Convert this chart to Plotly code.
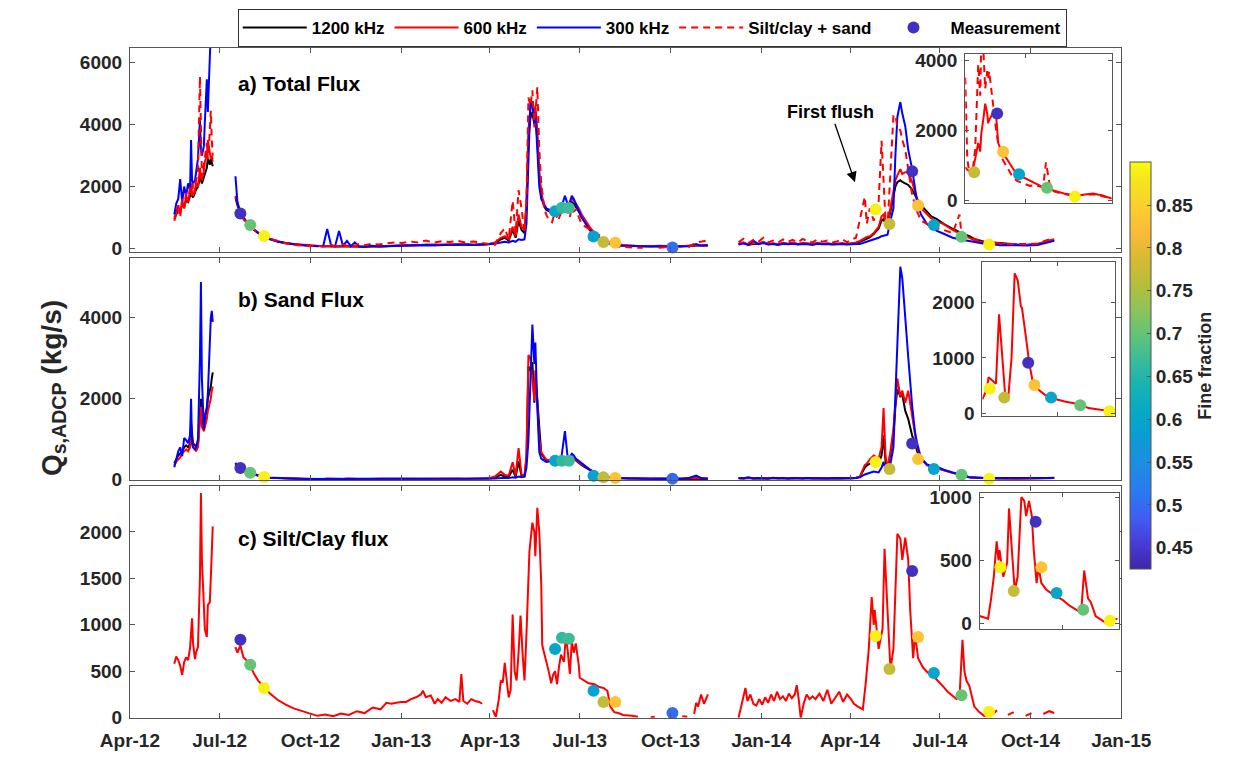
import pandas as pd
import plotly.graph_objects as go

# ---------------- data (day offsets from 2012-04-01) ----------------
BASE = pd.Timestamp("2012-04-01")

# segment 1 (May-Jun 2012), panels a & b & c
g1_days = [45, 47, 49, 51, 53, 55, 57, 59, 61, 62,
           63, 64, 66, 67, 69, 71, 72, 73, 75, 76,
           78, 79, 80, 81, 82, 83, 84]
a1200_1 = [1000, 1100, 1250, 1200, 1400, 1350, 1550, 1500, 1700, 1800,
           1700, 1650, 1800, 1900, 2000, 2300, 2200, 2100, 2300, 2400,
           2600, 2900, 2800, 2700, 2900, 2700, 2650]
a600_1 = [950, 1200, 1400, 1150, 1550, 1300, 1700, 1500, 1900, 2100,
          1800, 1700, 1900, 2100, 2000, 2600, 2300, 2200, 2500, 2800,
          3000, 3500, 3300, 3100, 2900, 3000, 2800]
a300_1 = [1100, 1450, 1600, 2240, 1500, 2000, 1700, 2100, 1900, 3500,
          2200, 2100, 2200, 2500, 2900, 4130, 3200, 3000, 3300, 4100,
          5450, 4400, 5200, 6900, 7000, 7000, 6900]
adash_1 = [900, 1100, 1300, 1000, 1600, 1300, 1800, 1500, 2000, 1900,
           1700, 2100, 1800, 2200, 2500, 5540, 3500, 2300, 2700, 3000,
           3400, 2900, 3200, 3800, 4440, 3500, 3000]
b1200_1 = [400, 500, 600, 650, 700, 800, 850, 800, 900, 1400,
           1000, 900, 850, 800, 850, 1500, 2000, 1500, 1300, 1500,
           1700, 2000, 2100, 2200, 2300, 2500, 2650]
b600_1 = [350, 450, 500, 550, 650, 700, 750, 700, 800, 1200,
          900, 800, 750, 700, 800, 1400, 1800, 1300, 1200, 1300,
          1500, 1700, 1800, 1900, 2000, 2200, 2300]
b300_1 = [310, 500, 700, 800, 580, 1030, 980, 900, 1100, 2000,
          900, 800, 750, 800, 1000, 3000, 4880, 2500, 1240, 1570,
          1800, 2100, 2800, 3740, 4000, 4170, 3900]
c_1 = [580, 660, 620, 560, 460, 600, 650, 620, 750, 900,
       1070, 800, 630, 700, 760, 1500, 2420, 1700, 1070, 950,
       870, 1210, 1230, 1240, 1500, 1800, 2060]

# segment 2 (Jul 2012 - Nov 2013), panels a & b
g2_days = [107, 109, 112, 115, 118, 122, 126, 130, 136, 142,
           150, 158, 166, 175, 183, 190, 196, 200, 204, 208,
           212, 216, 220, 224, 228, 232, 238, 245, 252, 260,
           268, 276, 284, 292, 300, 308, 316, 324, 332, 340,
           348, 356, 364, 370, 376, 380, 384, 388, 391, 394,
           397, 400, 402, 404, 406, 408, 410, 411, 413, 415,
           417, 420, 422, 425, 428, 431, 434, 437, 441, 444,
           446, 448, 450, 452, 455, 458, 462, 466, 470, 474,
           480, 486, 492, 498, 505, 512, 520, 528, 536, 544,
           550, 558, 566, 574, 580, 586]
a1200_2 = [1650, 1400, 1130, 980, 860, 740, 600, 500, 400, 310,
           230, 170, 140, 110, 95, 85, 75, 80, 75, 65,
           75, 65, 80, 65, 75, 65, 55, 70, 65, 80,
           90, 100, 110, 100, 120, 110, 120, 130, 120, 130,
           120, 130, 140, 180, 300, 350, 260, 600, 350, 900,
           600, 500, 1300, 3500, 4200, 4400, 4000, 4300, 3500, 2300,
           1700, 1350, 1250, 1200, 1150, 1150, 1200, 1250, 1300, 1350,
           1450, 1500, 1450, 1350, 1200, 1000, 850, 650, 500, 370,
           260, 190, 140, 110, 95, 85, 75, 75, 85, 75,
           65, 75, 85, 95, 100, 110]
a600_2 = [1700, 1450, 1150, 1000, 880, 760, 620, 520, 410, 320,
          240, 180, 150, 120, 100, 90, 80, 90, 80, 70,
          80, 70, 90, 70, 80, 70, 60, 80, 70, 90,
          100, 110, 120, 110, 130, 120, 130, 140, 130, 140,
          130, 140, 150, 200, 350, 400, 300, 700, 400, 1100,
          700, 600, 1500, 3800, 4500, 4700, 4200, 4600, 3800, 2500,
          1800, 1400, 1300, 1250, 1200, 1200, 1250, 1300, 1350, 1400,
          1500, 1600, 1550, 1450, 1300, 1100, 900, 700, 550, 400,
          280, 200, 150, 120, 100, 90, 80, 80, 90, 80,
          70, 80, 90, 100, 110, 120]
a300_2 = [2330, 1500, 1150, 1000, 870, 740, 600, 500, 390, 300,
          220, 170, 140, 110, 90, 80, 90, 630, 100, 80,
          570, 90, 250, 80, 200, 70, 60, 90, 70, 80,
          90, 100, 110, 100, 120, 110, 120, 130, 120, 130,
          120, 130, 140, 160, 200, 220, 200, 250, 220, 300,
          280, 300, 800, 2500, 4800, 4600, 4000, 4400, 3200, 2000,
          1600, 1400, 1300, 1250, 1250, 1200, 1300, 1300, 1700, 1400,
          1500, 1700, 1600, 1450, 1250, 1000, 800, 600, 450, 320,
          200, 150, 110, 90, 80, 70, 70, 70, 80, 70,
          60, 70, 80, 150, 90, 100]
adash_2 = [1200, 1100, 1130, 950, 850, 740, 620, 500, 400, 310,
           250, 170, 120, 100, 80, 100, 60, 90, 120, 70,
           100, 150, 80, 130, 90, 150, 110, 160, 130, 170,
           200, 180, 230, 200, 260, 190, 240, 210, 250, 200,
           230, 190, 150, 120, 500, 650, 300, 1540, 500, 1880,
           1300, 500, 1500, 4870, 4600, 5100, 3900, 4400, 5200, 3200,
           2100, 1300, 1100, 900, 850, 1200, 900, 1150, 1300, 1200,
           1000, 1350, 1200, 1250, 1000, 800, 700, 620, 560, 480,
           350, 150, 80, 60, 40, 30, 30, None, 30, 40,
           60, None, 40, 200, 230, 270]
b1200_2 = [380, 320, 280, 240, 200, 160, 130, 100, 70, 50,
           40, 30, 25, 20, 20, 20, 20, 25, 20, 20,
           20, 20, 25, 20, 20, 20, 15, 20, 20, 20,
           20, 20, 20, 15, 20, 20, 20, 20, 20, 20,
           20, 20, 30, 50, 120, 80, 70, 250, 70, 450,
           90, 80, 500, 2800, 2700, 2900, 1900, 2500, 2000, 1300,
           650, 540, 480, 470, 460, 450, 470, 460, 480, 520,
           510, 540, 520, 480, 400, 360, 300, 240, 190, 140,
           90, 60, 45, 35, 30, 25, 20, 20, 20, 20,
           20, 20, 25, 35, 25, 20]
b600_2 = [400, 330, 290, 250, 210, 170, 140, 110, 75, 55,
          40, 35, 30, 25, 20, 25, 20, 30, 25, 20,
          25, 20, 30, 20, 25, 20, 15, 20, 25, 20,
          20, 25, 20, 15, 20, 25, 20, 20, 25, 20,
          25, 20, 40, 80, 200, 120, 100, 430, 100, 780,
          130, 100, 600, 3080, 3000, 2500, 1940, 2700, 1800, 1000,
          680, 560, 500, 480, 470, 460, 480, 470, 500, 530,
          520, 560, 540, 500, 420, 380, 320, 250, 200, 150,
          100, 70, 50, 40, 30, 30, 25, 20, 25, 20,
          20, 25, 30, 40, 30, 25]
b300_2 = [420, 340, 280, 240, 200, 160, 130, 100, 70, 50,
          40, 30, 30, 25, 20, 20, 25, 30, 20, 25,
          20, 30, 20, 25, 20, 20, 15, 25, 20, 20,
          20, 20, 25, 20, 20, 20, 25, 20, 20, 25,
          20, 25, 20, 30, 40, 50, 40, 60, 50, 80,
          60, 80, 300, 960, 2400, 3830, 2860, 3390, 1810, 680,
          520, 480, 440, 450, 470, 460, 480, 470, 1200, 500,
          560, 640, 600, 520, 470, 400, 330, 250, 180, 130,
          80, 50, 40, 35, 30, 30, 25, 25, 30, 25,
          30, 25, 40, 100, 35, 30]

# segment 3 (Dec 2013 - Nov 2014), panels a & b
g3_days = [617, 622, 627, 632, 637, 642, 647, 652, 657, 662,
           667, 672, 677, 682, 687, 692, 697, 702, 707, 712,
           717, 722, 727, 732, 736, 740, 745, 747, 750, 754,
           759, 762, 764, 766, 768, 771, 774, 776, 778, 781,
           783, 786, 789, 793, 796, 798, 802, 808, 812, 818,
           825, 834, 841, 843, 845, 851, 857, 866, 875, 882,
           890, 900, 910, 920, 930, 937]
a1200_3 = [140, 180, 120, 160, 150, 200, 140, 160, 130, 170,
           150, 180, 140, 170, 160, 140, 170, 150, 160, 140,
           150, 160, 140, 160, 180, 220, 300, 330, 360, 470,
           650, 900, 950, 800, 780, 1200, 1700, 2000, 2140, 2200,
           2150, 2100, 2050, 1900, 1700, 1600, 1400, 1200, 1050, 950,
           800, 640, 520, 500, 470, 400, 300, 220, 190, 170,
           150, 130, 120, 140, 220, 260]
a600_3 = [150, 200, 130, 180, 160, 220, 150, 170, 140, 190,
          160, 200, 150, 180, 170, 150, 190, 160, 170, 150,
          160, 180, 150, 170, 200, 250, 350, 380, 400, 500,
          700, 1040, 1100, 900, 790, 1300, 1830, 2200, 2360, 2560,
          2400, 2460, 2460, 2140, 1830, 1610, 1300, 1100, 980, 880,
          790, 600, 470, 450, 420, 350, 250, 200, 180, 150,
          130, 120, 130, 150, 250, 300]
a300_3 = [130, 170, 120, 260, 140, 180, 130, 150, 120, 160,
          140, 160, 130, 150, 140, 120, 160, 140, 150, 130,
          140, 150, 130, 150, 150, 150, 200, 220, 240, 300,
          350, 400, 420, 430, 450, 900, 1300, 3000, 4240, 4720,
          4350, 3940, 3190, 2560, 1830, 1500, 1100, 790, 700, 570,
          480, 350, 300, 290, 280, 250, 200, 160, 140, 110,
          120, 110, 100, 120, 200, 250]
adash_3 = [200, 320, 180, 280, 220, 350, 200, 260, 190, 300,
           220, 280, 200, 310, 240, 200, 300, 220, 260, 200,
           230, 310, 200, 300, 350, 900, 1670, 800, 1300, 900,
           1500, 3470, 2000, 900, 700, 2500, 4280, 4300, 3900, 3810,
           3500, 3190, 2500, 1730, 1400, 1200, 900, 800, 700, 650,
           600, 500, 1100, 450, 420, 350, 300, 220, 200, 160,
           150, 140, 150, 160, 280, 300]
b1200_3 = [35, 30, 45, 30, 35, 30, 30, 40, 30, 35,
           30, 35, 30, 30, 40, 30, 35, 30, 30, 35,
           30, 30, 35, 30, 45, 70, 300, 350, 400, 440,
           400, 600, 1090, 450, 250, 650, 1100, 1800, 2230, 2060,
           2100, 1700, 1500, 1090, 900, 700, 530, 360, 330, 300,
           230, 170, 120, 110, 90, 60, 50, 40, 30, 30,
           30, 25, 30, 30, 35, 40]
b600_3 = [40, 30, 50, 30, 40, 35, 30, 45, 30, 40,
          30, 40, 35, 30, 45, 30, 40, 35, 30, 40,
          35, 30, 40, 35, 50, 80, 360, 400, 500, 600,
          520, 800, 1770, 600, 290, 700, 1260, 2000, 2500, 2060,
          2200, 1900, 2200, 1570, 1100, 800, 530, 360, 330, 300,
          230, 170, 130, 120, 100, 60, 50, 40, 30, 35,
          30, 25, 30, 35, 40, 45]
b300_3 = [40, 35, 60, 30, 40, 35, 30, 50, 35, 40,
          30, 45, 35, 30, 40, 35, 45, 35, 30, 40,
          35, 30, 40, 35, 45, 60, 130, 150, 170, 200,
          180, 300, 440, 250, 180, 400, 800, 2000, 3590, 5260,
          4970, 3900, 3030, 1820, 1160, 900, 530, 380, 340, 320,
          250, 180, 140, 240, 110, 60, 50, 45, 40, 40,
          35, 30, 35, 40, 45, 50]

# panel c (silt/clay, 600 kHz) later segments
c2_days = [107, 109, 112, 115, 118, 122, 126, 130, 136, 142,
           150, 158, 166, 175, 183, 190, 198, 206, 214, 222,
           230, 238, 246, 254, 260, 265, 270, 275, 280, 285,
           290, 295, 297, 300, 305, 309, 312, 316, 320, 325,
           330, 334, 336, 338, 342, 346, 350, 354, 357]
c_2 = [760, 700, 780, 650, 620, 560, 470, 400, 330, 260,
       190, 140, 100, 70, 40, 20, 35, 15, 45, 30,
       70, 50, 110, 90, 160, 150, 160, 170, 170, 200,
       220, 250, 290, 220, 240, 150, 200, 160, 220, 180,
       200, 170, 470, 180, 150, 200, 180, 170, 150]
c3_days = [368, 371, 374, 376, 378, 380, 382, 384, 386, 388,
           390, 392, 394, 396, 398, 400, 402, 405, 408, 410,
           411, 413, 415, 417, 418, 420, 422, 425, 427, 429,
           431, 433, 435, 437, 440, 442, 444, 446, 448, 450,
           452, 455, 456, 460, 465, 471, 476, 480, 484, 487,
           491, 495, 500, 509, 515, 520, 528, 532, 536, 548,
           552, 556, 560, 565, 568, 572, 574, 576, 579, 582,
           584, 586]
c_3 = [80, 10, 200, 400, 380, 590, 400, 220, 300, 1110,
       500, 400, 700, 1100, 700, 400, 900, 1790, 2100, 2000,
       1740, 2260, 2000, 1440, 780, 700, 610, 480, 370, 460,
       500, 360, 550, 680, 600, 890, 700, 470, 820, 700,
       800, 570, 430, 400, 370, 360, 330, 320, 290, 120,
       60, 50, 30, 20, 10, None, 5, 10, None, 10,
       30, None, 15, 10, None, 40, 160, 120, 250, 150,
       200, 250]
c4_days = [617, 619, 622, 624, 626, 629, 632, 635, 638, 641,
           644, 647, 650, 653, 656, 659, 662, 665, 668, 671,
           674, 676, 678, 680, 683, 686, 689, 692, 695, 699,
           703, 707, 711, 715, 719, 723, 727, 731, 734, 738,
           741, 743, 746, 749, 752, 754, 755, 758, 759, 763,
           765, 768, 771, 774, 778, 781, 783, 786, 789, 791,
           794, 796, 799, 804, 808, 813, 817, 821, 825, 829,
           834, 838, 841, 844, 846, 848, 851, 856, 861, 866,
           871, 876, 879, 884, 890, 896, 902, 908, 914, 920,
           926, 932, 937]
c_4 = [0, 100, 250, 320, 180, 250, 150, 130, 200, 140,
       220, 160, 250, 180, 280, 200, 230, 180, 260, 210,
       250, 350, 200, 0, 150, 250, 200, 230, 200, 260,
       180, 300, 150, 220, 280, 170, 250, 200, 150, 120,
       100, 90, 380, 740, 1300, 1000, 1160, 840, 740, 960,
       1820, 1160, 520, 740, 1980, 1930, 1700, 1940, 1700, 1160,
       640, 900, 640, 540, 500, 440, 420, 380, 330, 280,
       240, 200, 220, 840, 500, 400, 340, 120, 60, 20,
       30, 50, 80, None, 30, 60, None, 20, 50, None,
       40, 70, 50]

# measurements
meas_days = [112, 122, 136, 431, 438, 445, 470, 480, 492, 550,
             756, 770, 793, 799, 815, 843, 871]
meas_ff = [0.44, 0.70, 0.89, 0.60, 0.66, 0.67, 0.59, 0.77, 0.83, 0.50,
           0.89, 0.77, 0.44, 0.83, 0.60, 0.70, 0.89]
meas_a = [1130, 760, 410, 1200, 1320, 1310, 390, 210, 190, 40,
          1260, 790, 2490, 1390, 760, 380, 130]
meas_b = [290, 170, 70, 470, 470, 470, 100, 60, 40, 25,
          436, 267, 897, 509, 267, 121, 24]
meas_c = [840, 570, 320, 740, 860, 850, 290, 170, 170, 50,
          880, 524, 1581, 869, 482, 241, 63]

# insets (2014 event)
ia_days = [761, 763, 765, 768, 771, 773, 774, 776, 777, 779,
           781, 783, 784, 785, 787, 789, 790, 792, 794, 798,
           803, 808, 813, 818, 822, 826, 832, 838, 840, 842,
           846, 850, 854, 860, 866, 870, 877, 883, 889, 894,
           898, 903, 908]
ia600 = [950, 880, 850, 810, 1200, 1500, 1650, 1400, 1900, 2300,
         2770, 2500, 2210, 2300, 2400, 2500, 2580, 2430, 1650, 1370,
         1180, 950, 730, 680, 620, 560, 480, 400, 380, 340,
         320, 280, 250, 200, 170, 160, 160, 180, 200, 170,
         150, 100, 60]
iadash = [3520, 1200, 800, 700, 1500, 3000, 3890, 3000, 4400, 4400,
          3200, 3700, 3500, 3700, 3200, 2770, 2400, 2000, 1650, 1200,
          950, 700, 560, 500, 460, 420, 440, 380, 600, 1090,
          400, 260, 230, 180, 150, 140, 160, 170, 180, 150,
          120, 90, 60]
ia_meas_days = [770, 793, 799, 815, 843, 871]
ia_meas_ff = [0.77, 0.44, 0.83, 0.60, 0.70, 0.89]
ia_meas = [811, 2490, 1398, 755, 364, 112]

ib_days = [749, 753, 755, 759, 762, 765, 768, 771, 774, 777,
           780, 783, 786, 787, 791, 794, 797, 803, 809, 818,
           828, 842, 851, 862, 876]
ib600 = [250, 420, 650, 580, 530, 1790, 1120, 300, 320, 1000,
         2530, 2400, 1930, 1910, 1350, 910, 600, 420, 330, 260,
         210, 160, 90, 60, 40]
ib_meas_days = [756, 770, 793, 799, 815, 843, 871]
ib_meas_ff = [0.89, 0.77, 0.44, 0.83, 0.60, 0.70, 0.89]
ib_meas = [439, 280, 912, 509, 280, 140, 35]

ic_days = [734, 743, 746, 749, 752, 754, 755, 758, 759, 763,
           765, 768, 771, 774, 778, 781, 783, 786, 789, 791,
           794, 796, 799, 804, 813, 821, 829, 838, 841, 844,
           848, 851, 856, 866, 879]
ic600 = [60, 40, 190, 370, 650, 500, 580, 420, 370, 480,
         910, 580, 260, 370, 1000, 970, 850, 970, 850, 580,
         320, 450, 320, 270, 220, 190, 140, 100, 110, 420,
         200, 170, 60, 10, 40]
ic_meas = [445, 258, 805, 445, 242, 109, 23]

# ---------------- helpers ----------------
def to_dates(days):
    return [BASE + pd.Timedelta(days=d) for d in days]


def join(*segs):
    xs, ys = [], []
    for i, (d, v) in enumerate(segs):
        if i > 0:
            xs.append(d[0] - 1)
            ys.append(None)
        xs.extend(d)
        ys.extend(v)
    return to_dates(xs), ys


PARULA = [[0.0, "rgb(62,38,168)"], [0.063, "rgb(70,60,215)"], [0.127, "rgb(62,95,245)"],
          [0.19, "rgb(42,122,238)"], [0.254, "rgb(30,140,226)"], [0.317, "rgb(12,155,212)"],
          [0.381, "rgb(6,168,198)"], [0.444, "rgb(21,178,180)"], [0.508, "rgb(56,186,156)"],
          [0.571, "rgb(95,195,120)"], [0.635, "rgb(140,195,90)"], [0.698, "rgb(180,190,60)"],
          [0.762, "rgb(216,186,50)"], [0.825, "rgb(250,186,58)"], [0.889, "rgb(252,206,46)"],
          [0.952, "rgb(245,228,29)"], [1.0, "rgb(249,251,14)"]]
CMIN, CMAX = 0.425, 0.90

FONT = "Liberation Sans, Arial, Helvetica, sans-serif"
TXT = "#262626"
AXC = "#555555"
TICKFONT = dict(family=FONT, size=19, color=TXT, weight="bold")

fig = go.Figure()


def line(x, y, color, xa, ya, name, show, dash="solid", width=2):
    fig.add_trace(go.Scatter(x=x, y=y, mode="lines", name=name, legendgroup=name,
                             showlegend=show, line=dict(color=color, width=width, dash=dash),
                             xaxis=xa, yaxis=ya, hoverinfo="skip"))


def dots(days, vals, ff, xa, ya, show=False, scale=False):
    cb = dict(x=1156 / 1256, xanchor="left", xpad=0, ypad=0, thickness=21,
              len=416 / 759, y=1 - 368 / 759, yanchor="middle",
              outlinecolor=AXC, outlinewidth=1,
              tickvals=[0.45, 0.5, 0.55, 0.6, 0.65, 0.7, 0.75, 0.8, 0.85],
              ticktext=["0.45", "0.5", "0.55", "0.6", "0.65", "0.7", "0.75", "0.8", "0.85"],
              ticks="inside", ticklen=4, tickcolor=AXC, tickfont=TICKFONT,
              title=dict(text="Fine fraction", side="right",
                         font=dict(family=FONT, size=18, color=TXT, weight="bold")))
    fig.add_trace(go.Scatter(x=to_dates(days), y=vals, mode="markers", name="Measurement",
                             legendgroup="Measurement", showlegend=show, cliponaxis=False,
                             marker=dict(size=12, color=ff, colorscale=PARULA, cmin=CMIN, cmax=CMAX,
                                         showscale=scale, colorbar=cb if scale else None,
                                         line=dict(width=0)),
                             xaxis=xa, yaxis=ya, hoverinfo="skip"))


# panel a
x, y = join((g1_days, a1200_1), (g2_days, a1200_2), (g3_days, a1200_3))
line(x, y, "#000000", "x", "y", "1200 kHz", True)
x, y = join((g1_days, a600_1), (g2_days, a600_2), (g3_days, a600_3))
line(x, y, "#ff0000", "x", "y", "600 kHz", True)
x, y = join((g1_days, a300_1), (g2_days, a300_2), (g3_days, a300_3))
line(x, y, "#0000ff", "x", "y", "300 kHz", True)
x, y = join((g1_days, adash_1), (g2_days, adash_2), (g3_days, adash_3))
line(x, y, "#ff0000", "x", "y", "Silt/clay + sand", True, dash="7px,5px")
dots(meas_days, meas_a, meas_ff, "x", "y", show=True, scale=True)

# panel b
x, y = join((g1_days, b1200_1), (g2_days, b1200_2), (g3_days, b1200_3))
line(x, y, "#000000", "x2", "y2", "1200 kHz", False)
x, y = join((g1_days, b600_1), (g2_days, b600_2), (g3_days, b600_3))
line(x, y, "#ff0000", "x2", "y2", "600 kHz", False)
x, y = join((g1_days, b300_1), (g2_days, b300_2), (g3_days, b300_3))
line(x, y, "#0000ff", "x2", "y2", "300 kHz", False)
dots(meas_days, meas_b, meas_ff, "x2", "y2")

# panel c
x, y = join((g1_days, c_1), (c2_days, c_2), (c3_days, c_3), (c4_days, c_4))
line(x, y, "#ff0000", "x3", "y3", "600 kHz", False)
dots(meas_days, meas_c, meas_ff, "x3", "y3")

# insets
line(to_dates(ia_days), ia600, "#ff0000", "x4", "y4", "600 kHz", False)
line(to_dates(ia_days), iadash, "#ff0000", "x4", "y4", "Silt/clay + sand", False, dash="7px,5px")
dots(ia_meas_days, ia_meas, ia_meas_ff, "x4", "y4")
line(to_dates(ib_days), ib600, "#ff0000", "x5", "y5", "600 kHz", False)
dots(ib_meas_days, ib_meas, ib_meas_ff, "x5", "y5")
line(to_dates(ic_days), ic600, "#ff0000", "x6", "y6", "600 kHz", False)
dots(ib_meas_days, ic_meas, ib_meas_ff, "x6", "y6")

# ---------------- layout ----------------
W, H = 1256, 759
X0, X1 = 105 / W, 1147 / W


def ydom(top, bottom):
    return [1 - bottom / H, 1 - top / H]


ax_common = dict(showline=True, linecolor=AXC, linewidth=1, mirror="ticks", ticks="inside",
                 ticklen=5, tickcolor=AXC, showgrid=False, zeroline=False, tickfont=TICKFONT,
                 ticklabelstandoff=3)
xmain = dict(ax_common, type="date", range=["2012-04-01", "2015-01-01"], dtick="M3",
             tick0="2012-04-01", tickformat="%b-%y", domain=[X0, X1])

lay = dict(
    width=W, height=H, margin=dict(l=0, r=0, t=0, b=0), autosize=False,
    paper_bgcolor="white", plot_bgcolor="white",
    font=dict(family=FONT, color=TXT),
    xaxis=dict(xmain, anchor="y", showticklabels=False),
    xaxis2=dict(xmain, anchor="y2", showticklabels=False),
    xaxis3=dict(xmain, anchor="y3", showticklabels=True, ticklabelstandoff=6),
    yaxis=dict(ax_common, domain=ydom(43, 252), anchor="x", range=[-120, 6460],
               tickvals=[0, 2000, 4000, 6000]),
    yaxis2=dict(ax_common, domain=ydom(258, 485), anchor="x2", range=[-10, 5470],
                tickvals=[0, 2000, 4000]),
    yaxis3=dict(ax_common, domain=ydom(491, 728), anchor="x3", range=[0, 2495],
                tickvals=[0, 500, 1000, 1500, 2000]),
    xaxis4=dict(ax_common, type="date", domain=[983 / W, 1137 / W], anchor="y4",
                range=["2014-05-02", "2014-09-26"], dtick="M3", tick0="2014-01-01",
                showticklabels=False, ticklen=4),
    yaxis4=dict(ax_common, domain=ydom(49, 202), anchor="x4", range=[-84, 4196],
                tickvals=[0, 2000, 4000], ticklen=4),
    xaxis5=dict(ax_common, type="date", domain=[1001 / W, 1140 / W], anchor="y5",
                range=["2014-04-20", "2014-08-25"], dtick="M3", tick0="2014-01-01",
                showticklabels=False, ticklen=4),
    yaxis5=dict(ax_common, domain=ydom(262, 419), anchor="x5", range=[-46, 2734],
                tickvals=[0, 1000, 2000], ticklen=4),
    xaxis6=dict(ax_common, type="date", domain=[998 / W, 1145 / W], anchor="y6",
                range=["2014-04-05", "2014-08-30"], dtick="M3", tick0="2014-01-01",
                showticklabels=False, ticklen=4),
    yaxis6=dict(ax_common, domain=ydom(498, 637), anchor="x6", range=[-40, 1033],
                tickvals=[0, 500, 1000], ticklen=4),
    legend=dict(orientation="h", x=654 / W, xanchor="center", y=1 - 3 / H, yanchor="top",
                bgcolor="white", bordercolor="#333333", borderwidth=1,
                font=dict(family=FONT, size=17, color="#000000", weight="bold"),
                itemwidth=64, itemclick=False, itemdoubleclick=False),
    showlegend=True,
)
fig.update_layout(**lay)

LABFONT = dict(family=FONT, size=21, color="#000000", weight="bold")
for txt, yy in [("a) Total Flux", 79), ("b) Sand Flux", 300), ("c) Silt/Clay flux", 545)]:
    fig.add_annotation(text=txt, xref="paper", yref="paper", x=217 / W, y=1 - yy / H,
                       xanchor="left", yanchor="middle", showarrow=False, font=LABFONT)

fig.add_annotation(text="Q<sub>s,ADCP</sub> (kg/s)", xref="paper", yref="paper",
                   x=24 / W, y=1 - 391 / H, textangle=-90, showarrow=False,
                   xanchor="center", yanchor="middle",
                   font=dict(family=FONT, size=28, color=TXT, weight="bold"))

fig.add_annotation(text="First flush", xref="x", yref="y", x="2014-04-06", y=2140,
                   ax=-24, ay=-70, showarrow=True, arrowhead=2, arrowsize=1.6,
                   arrowwidth=1.3, arrowcolor="#000000",
                   font=dict(family=FONT, size=18, color="#000000", weight="bold"))

fig.write_html("out.html")
